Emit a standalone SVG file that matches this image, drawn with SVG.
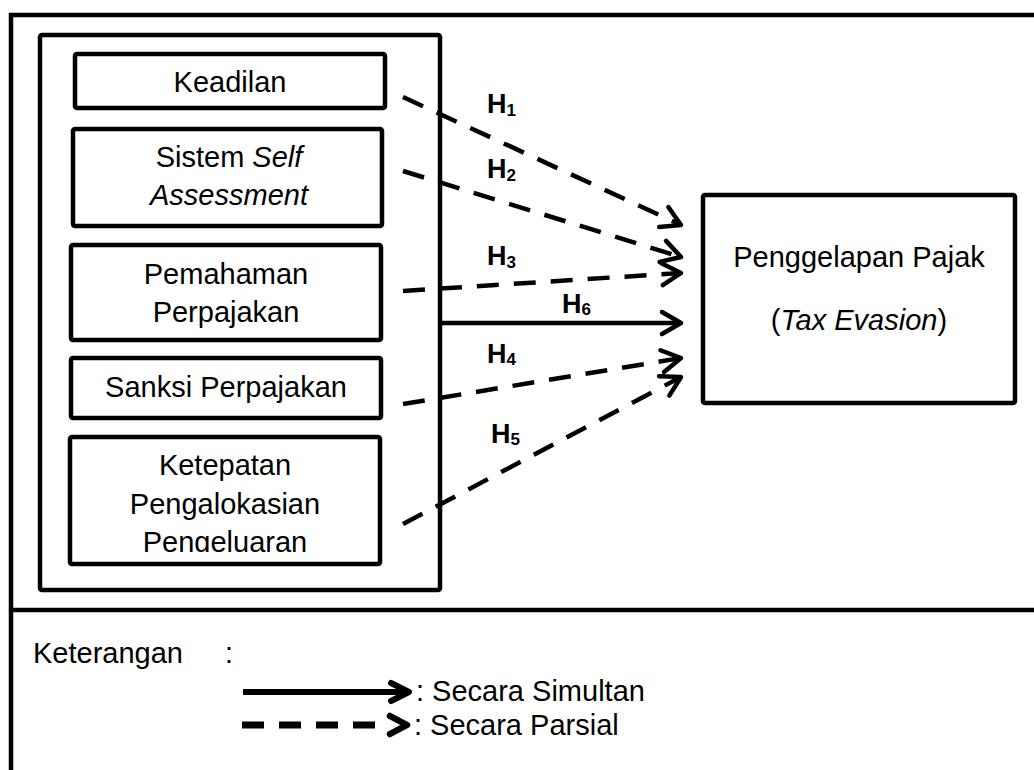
<svg xmlns="http://www.w3.org/2000/svg" width="1034" height="770" viewBox="0 0 1034 770">
  <style>
    .frame { fill: none; stroke: #000; stroke-width: 4.5; }
    .box { fill: #fff; stroke: #000; stroke-width: 4.5; }
    .t { font-family: "Liberation Sans", Arial, sans-serif; font-size: 29px; fill: #000; }
    .c { text-anchor: middle; }
    .h { font-family: "Liberation Sans", Arial, sans-serif; font-size: 27px; font-weight: bold; fill: #000; }
    .sub { font-size: 17px; }
    .conn { fill: none; stroke: #000; stroke-width: 4.5; }
    .dash { stroke-dasharray: 22 15; }
  </style>
  <defs>
    <marker id="ah" markerUnits="userSpaceOnUse" orient="auto" refX="0" refY="0" markerWidth="40" markerHeight="40" overflow="visible">
      <path d="M-19,-11 L0,0 L-19,11" fill="none" stroke="#000" stroke-width="4.5" stroke-linecap="round" stroke-linejoin="round"/>
    </marker>
    <clipPath id="clip5">
      <rect x="72" y="438" width="306" height="114"/>
    </clipPath>
  </defs>

  <rect x="0" y="0" width="1034" height="770" fill="#fff"/>

  <g id="outer-frame">
    <path class="frame" d="M1040,15 L11,15 L11,775"/>
    <line class="frame" x1="11" y1="610" x2="1040" y2="610"/>
  </g>

  <g id="independent-group">
    <rect class="frame" x="40" y="35" width="400" height="555" rx="2"/>
  </g>

  <g id="node-keadilan">
    <rect class="box" x="75" y="54" width="310" height="54" rx="2"/>
    <text class="t c" x="230" y="92">Keadilan</text>
  </g>

  <g id="node-self-assessment">
    <rect class="box" x="73" y="129" width="309" height="97" rx="2"/>
    <text class="t c" x="229" y="167">Sistem <tspan font-style="italic">Self</tspan></text>
    <text class="t c" x="229" y="205" font-style="italic">Assessment</text>
  </g>

  <g id="node-pemahaman">
    <rect class="box" x="71" y="245" width="310" height="95" rx="2"/>
    <text class="t c" x="226" y="284">Pemahaman</text>
    <text class="t c" x="226" y="322">Perpajakan</text>
  </g>

  <g id="node-sanksi">
    <rect class="box" x="71" y="358" width="310" height="60" rx="2"/>
    <text class="t c" x="226" y="397">Sanksi Perpajakan</text>
  </g>

  <g id="node-ketepatan">
    <rect class="box" x="70" y="437" width="310" height="127" rx="2"/>
    <g clip-path="url(#clip5)">
      <text class="t c" x="225" y="475">Ketepatan</text>
      <text class="t c" x="225" y="514">Pengalokasian</text>
      <text class="t c" x="225" y="552">Pengeluaran</text>
    </g>
  </g>

  <g id="node-penggelapan">
    <rect class="box" x="703" y="195" width="312" height="208" rx="2"/>
    <text class="t c" x="859" y="267">Penggelapan Pajak</text>
    <text class="t c" x="859" y="330">(<tspan font-style="italic">Tax Evasion</tspan>)</text>
  </g>

  <g id="connectors">
    <line class="conn dash" x1="403" y1="97" x2="681" y2="225" marker-end="url(#ah)"/>
    <line class="conn dash" x1="403" y1="171" x2="681" y2="257" marker-end="url(#ah)"/>
    <line class="conn dash" x1="403" y1="291" x2="681" y2="273" marker-end="url(#ah)"/>
    <line class="conn" x1="439" y1="323" x2="681" y2="323" marker-end="url(#ah)"/>
    <line class="conn dash" x1="403" y1="404" x2="681" y2="358" marker-end="url(#ah)"/>
    <line class="conn dash" x1="403" y1="524" x2="681" y2="377" marker-end="url(#ah)"/>
  </g>

  <g id="labels">
    <text class="h" x="487" y="113">H<tspan class="sub" dy="3">1</tspan></text>
    <text class="h" x="487" y="178">H<tspan class="sub" dy="3">2</tspan></text>
    <text class="h" x="487" y="265">H<tspan class="sub" dy="3">3</tspan></text>
    <text class="h" x="562" y="313">H<tspan class="sub" dy="2">6</tspan></text>
    <text class="h" x="487" y="363">H<tspan class="sub" dy="2">4</tspan></text>
    <text class="h" x="491" y="443">H<tspan class="sub" dy="2">5</tspan></text>
  </g>

  <g id="legend">
    <text class="t" x="33" y="663">Keterangan</text>
    <text class="t" x="225" y="663">:</text>
    <line x1="243" y1="692" x2="406" y2="692" stroke="#000" stroke-width="6"/>
    <path d="M391,683 L409,692 L391,701" fill="none" stroke="#000" stroke-width="6" stroke-linejoin="round" stroke-linecap="round"/>
    <text class="t" x="416" y="701">: Secara Simultan</text>
    <line x1="242" y1="725" x2="376" y2="725" stroke="#000" stroke-width="7" stroke-dasharray="22 15"/>
    <path d="M390,716 L407,725 L390,734" fill="none" stroke="#000" stroke-width="6.5" stroke-linejoin="round" stroke-linecap="round"/>
    <text class="t" x="414" y="735">: Secara Parsial</text>
  </g>
</svg>
